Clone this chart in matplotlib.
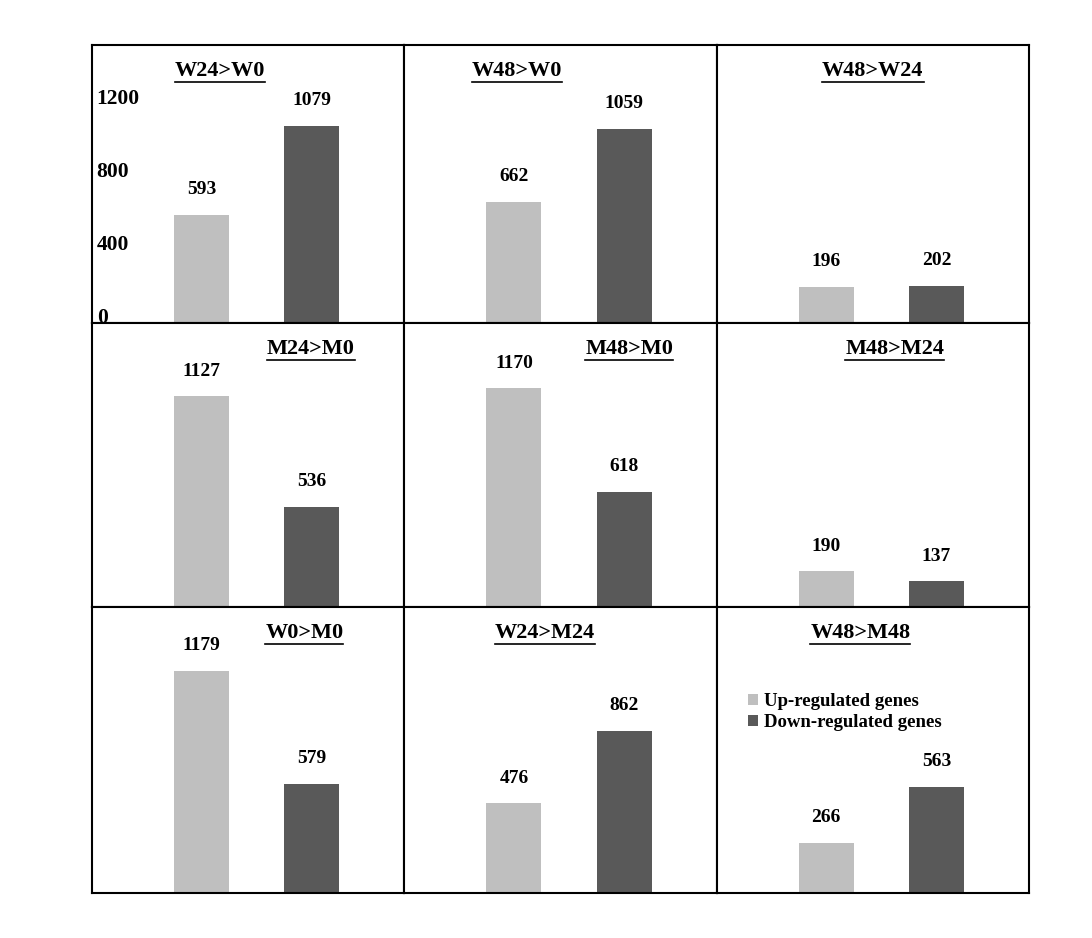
import matplotlib
matplotlib.use("Agg")
import matplotlib.pyplot as plt
from matplotlib.lines import Line2D

plt.rcParams['font.family'] = ['Liberation Serif', 'DejaVu Serif']
plt.rcParams['font.weight'] = 'bold'

# Daten
titel = ["W24>W0", "W48>W0", "W48>W24",
         "M24>M0", "M48>M0", "M48>M24",
         "W0>M0", "W24>M24", "W48>M48"]
up_genes = [593, 662, 196, 1127, 1170, 190, 1179, 476, 266]
down_genes = [1079, 1059, 202, 536, 618, 137, 579, 862, 563]
y_ticks = [0, 400, 800, 1200]
legende = ["Up-regulated genes", "Down-regulated genes"]

hell = "#bfbfbf"
dunkel = "#595959"

# titelposition (x in Achsenanteilen) je Panel
titel_x = [0.41, 0.36, 0.50, 0.70, 0.72, 0.57, 0.68, 0.45, 0.46]

W, H = 1092, 938
fig = plt.figure(figsize=(W / 100, H / 100), dpi=100)
gs = fig.add_gridspec(3, 3, left=92 / W, right=1029 / W, top=1 - 45 / H, bottom=1 - 893 / H,
                      wspace=0, hspace=0, height_ratios=[278, 284, 286])

achsen = []
for i in range(9):
    ax = fig.add_subplot(gs[i // 3, i % 3])
    b = ax.bar([0, 1], [up_genes[i], down_genes[i]], width=0.5, color=[hell, dunkel])
    ax.set_xlim(-0.995, 1.84)
    ax.set_ylim(0, 1520)
    ax.set_xticks([])
    ax.set_yticks([])
    for s in ax.spines.values():
        s.set_linewidth(1.5)
        s.set_color("black")
    for xpos, val in zip([0, 1], [up_genes[i], down_genes[i]]):
        ax.annotate(str(val), (xpos, val), xytext=(0, 15), textcoords="offset points",
                    ha="center", va="baseline", fontsize=14, fontweight="bold")
    t = ax.text(titel_x[i], 0.89, titel[i], transform=ax.transAxes, ha="center",
                va="baseline", fontsize=16, fontweight="bold")
    achsen.append((ax, t, b))

# y-Beschriftung nur im ersten Panel
ax0 = achsen[0][0]
for v in y_ticks:
    ax0.text(0.015, v, str(v), transform=ax0.get_yaxis_transform(), ha="left",
             va="baseline", fontsize=15.5, fontweight="bold")

# Legende im letzten Panel
ax8, _, bars8 = achsen[8]
ax8.legend(bars8, legende, loc="upper left", bbox_to_anchor=(0.075, 0.725), frameon=False,
           handlelength=0.55, handleheight=0.55, handletextpad=0.3, labelspacing=0.2,
           prop={"size": 13.5, "weight": "bold"}, borderaxespad=0)

# Titel unterstreichen
fig.canvas.draw()
r = fig.canvas.get_renderer()
for ax, t, _ in achsen:
    bb = t.get_window_extent(r)
    y = (bb.y0 - 1) / H
    fig.add_artist(Line2D([bb.x0 / W, bb.x1 / W], [y, y], color="black", lw=1.2))

fig.savefig("out.png", dpi=100, facecolor="white")
